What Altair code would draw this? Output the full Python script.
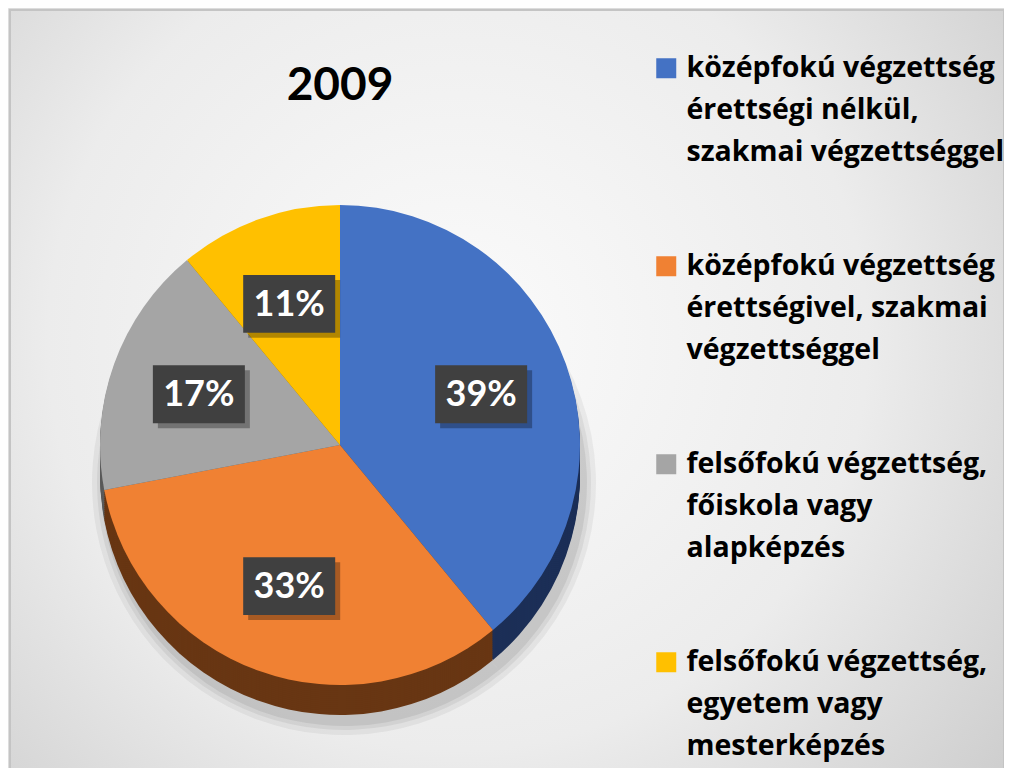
import altair as alt
import pandas as pd

# ---- data ----
categories = [
    "középfokú végzettség\nérettségi nélkül,\nszakmai végzettséggel",
    "középfokú végzettség\nérettségivel, szakmai\nvégzettséggel",
    "felsőfokú végzettség,\nfőiskola vagy\nalapképzés",
    "felsőfokú végzettség,\negyetem vagy\nmesterképzés",
]
values = [39, 33, 17, 11]
pct_labels = ["39%", "33%", "17%", "11%"]
title_text = "2009"

# ---- styles ----
top_colors = ["#4472C4", "#F08133", "#A5A5A5", "#FFC000"]
side_colors = ["#1C2F57", "#683613", "#5A5A5A", "#8A6800"]
FONT = "Lato"
LEGEND_FONT = "Open Sans"
CX, CY, R = 332, 437, 240
DEPTH = 30
RL = 150

df = pd.DataFrame({
    "cat": categories,
    "value": values,
    "order": list(range(len(values))),
    "label": pct_labels,
})

base = alt.Chart(df)

bg = alt.Chart(pd.DataFrame({"a": [0]})).mark_rect(
    fill={
        "gradient": "radial",
        "x1": 0.45, "y1": 0.45, "r1": 0.0,
        "x2": 0.45, "y2": 0.45, "r2": 0.75,
        "stops": [
            {"offset": 0, "color": "#fbfbfb"},
            {"offset": 0.55, "color": "#ececec"},
            {"offset": 1, "color": "#c9c9c9"},
        ],
    },
    stroke="#c4c4c4",
    strokeWidth=2,
).encode(x=alt.value(2), x2=alt.value(996), y=alt.value(2), y2=alt.value(762))

theta = alt.Theta("value:Q", stack=True)
order = alt.Order("order:Q")

shadows = []
for extra, op in [(12, 0.05), (7, 0.06), (3, 0.07)]:
    shadows.append(
        base.mark_arc(radius=R + extra, color="#000000", opacity=op).encode(
            theta=theta, order=order,
            x=alt.value(CX + 4), y=alt.value(CY + DEPTH + 8),
        )
    )

sides = []
for off in range(DEPTH, 0, -2):
    sides.append(
        base.mark_arc(radius=R).encode(
            theta=theta, order=order,
            color=alt.Color("cat:N", scale=alt.Scale(domain=categories, range=side_colors), legend=None),
            x=alt.value(CX), y=alt.value(CY + off),
        )
    )

top = base.mark_arc(radius=R).encode(
    theta=theta, order=order,
    color=alt.Color(
        "cat:N",
        scale=alt.Scale(domain=categories, range=top_colors),
        legend=alt.Legend(
            title=None, orient="none", legendX=644, legendY=46,
            symbolType="square", symbolSize=400, symbolStrokeWidth=0,
            labelFont=LEGEND_FONT, labelFontSize=28.5, labelFontWeight="bold",
            labelColor="#000000", labelLimit=0, labelOffset=6,
            labelExpr="split(datum.label, '\\n')",
            labelBaseline="alphabetic", rowPadding=85,
        ),
    ),
    x=alt.value(CX), y=alt.value(CY),
)

lbl = base.transform_joinaggregate(total="sum(value)").transform_window(
    cum="sum(value)", sort=[alt.SortField("order")], frame=[None, 0]
).transform_calculate(
    ang="2*PI*(datum.cum - datum.value/2)/datum.total",
    lx=f"{CX} + {RL}*sin(datum.ang)",
    ly=f"{CY} - {RL}*cos(datum.ang)",
)
pos = dict(x=alt.X("lx:Q", scale=None, axis=None), y=alt.Y("ly:Q", scale=None, axis=None))
box_shape = "M-1,-0.63L1,-0.63L1,0.63L-1,0.63Z"

box_shadow = lbl.mark_point(shape=box_shape, size=8464, filled=True, color="#000000",
                            opacity=0.3, xOffset=5, yOffset=5).encode(**pos)
box = lbl.mark_point(shape=box_shape, size=8464, filled=True, color="#404040",
                     opacity=1).encode(**pos)
txt = lbl.mark_text(font=FONT, fontWeight="bold", fontSize=36, color="#ffffff",
                    align="center", baseline="middle", dy=1).encode(text="label:N", **pos)

title = alt.Chart(pd.DataFrame({"t": [title_text]})).mark_text(
    font=FONT, fontWeight="bold", fontSize=46, color="#000000", align="center", baseline="middle"
).encode(text="t:N", x=alt.value(332), y=alt.value(78))

chart = alt.layer(bg, *shadows, *sides, top, box_shadow, box, txt, title).resolve_scale(
    color="independent"
).properties(
    width=996, height=760, padding=0, autosize="none", background="#ffffff"
).configure_view(stroke=None).configure(
    style={"guide-label": {"lineHeight": 42, "dy": 9}}
)

chart.save("out.html", embed_options={"renderer": "svg", "actions": False})
